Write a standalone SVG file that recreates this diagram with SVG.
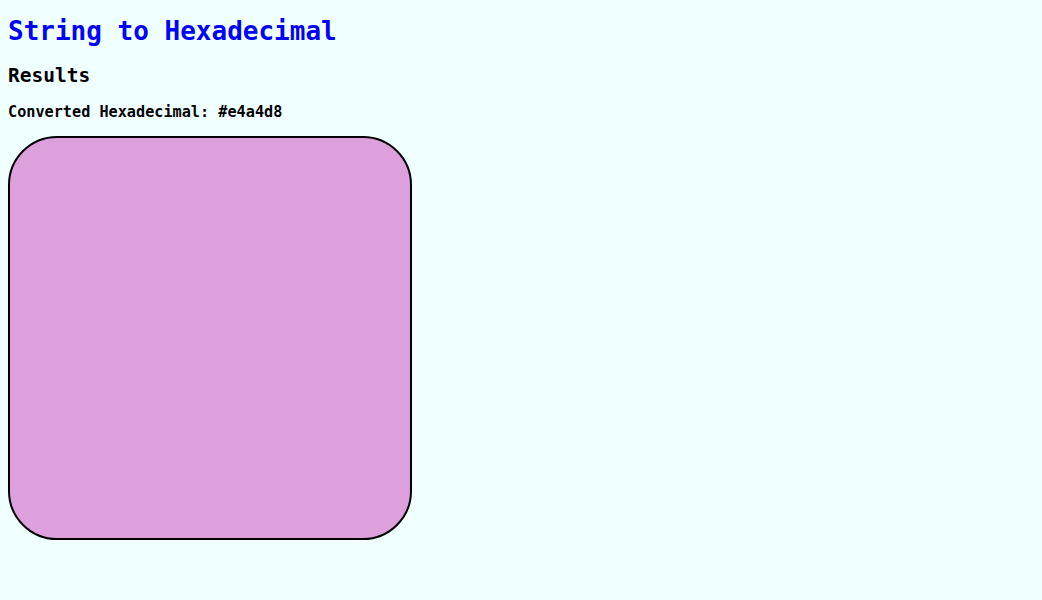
<svg xmlns="http://www.w3.org/2000/svg" width="1042" height="600" viewBox="0 0 1042 600">
<style>
text{font-family:"DejaVu Sans Mono","Liberation Mono",monospace;font-weight:bold}
.h1{font-size:26px;fill:#0000ff}
.h2{font-size:19.5px;fill:#000}
.h3{font-size:15.2px;fill:#000}
</style>
<rect x="0" y="0" width="1042" height="600" fill="#f0ffff"/>
<g id="title"><text class="h1" x="8" y="40">String to Hexadecimal</text></g>
<g id="results"><text class="h2" x="8" y="82">Results</text></g>
<g id="converted"><text class="h3" x="8" y="117">Converted Hexadecimal: #e4a4d8</text></g>
<g id="swatch"><rect x="9" y="137" width="402" height="402" rx="48" ry="48" fill="#dda0dd" stroke="#000" stroke-width="2"/></g>
</svg>
